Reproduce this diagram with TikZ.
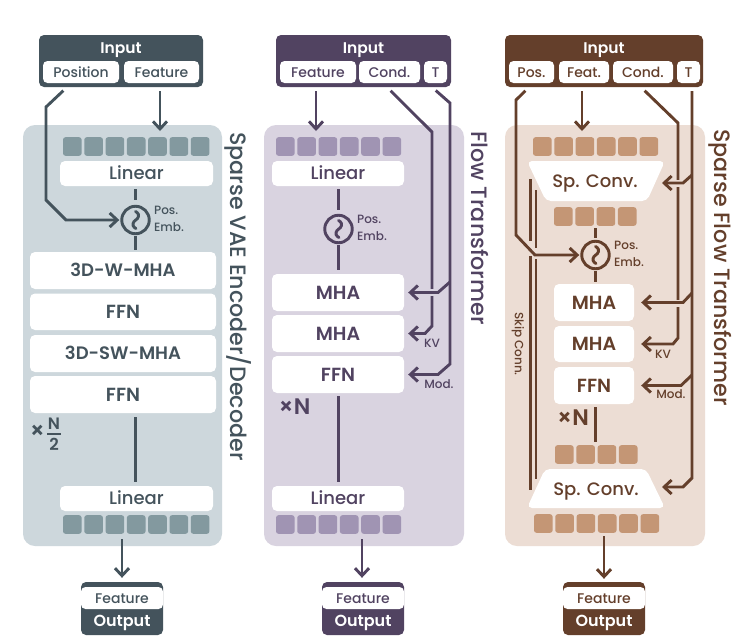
\documentclass[tikz,border=0pt]{standalone}
\usepackage{fontspec}
\setmainfont{Poppins}[UprightFont=* Medium,BoldFont=* SemiBold]
\usetikzlibrary{arrows.meta,calc}
\definecolor{dA}{HTML}{44535C}\definecolor{bA}{HTML}{CDD7DC}\definecolor{sA}{HTML}{83999F}
\definecolor{dB}{HTML}{514361}\definecolor{bB}{HTML}{D9D3E0}\definecolor{sB}{HTML}{A094B3}
\definecolor{dC}{HTML}{643F2B}\definecolor{bC}{HTML}{ECDDD4}\definecolor{sC}{HTML}{C49675}
\tikzset{
 panelbox/.style={fill=#1,rounded corners=12pt,inner sep=0pt},
 headbox/.style={fill=#1,rounded corners=5pt,inner sep=0pt},
 subbox/.style={fill=white,rounded corners=4.5pt,inner sep=0pt,text=#1,font=\fontsize{14}{14}\selectfont,text height=10pt,text depth=0pt},
 blockbox/.style={fill=white,rounded corners=5pt,inner sep=0pt,text=#1,font=\fontsize{18}{18}\selectfont,text height=12.5pt,text depth=0pt},
 capsbox/.style={fill=white,rounded corners=5pt,inner sep=0pt,text=#1,font=\bfseries\fontsize{19}{19}\selectfont,text height=13.3pt,text depth=0pt},
 widebox/.style={fill=white,rounded corners=5pt,inner sep=0pt,text=#1,font=\bfseries\fontsize{18}{18}\selectfont,text height=12.6pt,text depth=0pt},
 headtext/.style={text=white,font=\bfseries\fontsize{15.5}{15.5}\selectfont,inner sep=0pt,text height=11pt,text depth=0pt},
 outtext/.style={text=white,font=\bfseries\fontsize{16}{16}\selectfont,inner sep=0pt,text height=11pt,text depth=0pt},
 seqbox/.style={fill=#1,rounded corners=2.5pt,inner sep=0pt,minimum width=18.6pt,minimum height=18.6pt},
 conn/.style={draw=#1,line width=2.9pt},
 arr/.style={draw=#1,line width=2.9pt,-{Straight Barb[length=7.5pt,width=14pt,line width=2.9pt]}},
 circ/.style={circle,draw=#1,line width=2.9pt,minimum size=27.5pt,inner sep=0pt},
 smalltext/.style={text=#1,font=\fontsize{12}{12}\selectfont,inner sep=0pt},
 titletext/.style={text=#1,font=\fontsize{22.2}{22.2}\selectfont,inner sep=0pt,rotate=-90},
 multtext/.style={text=#1,font=\bfseries\fontsize{22.5}{22.5}\selectfont,inner sep=0pt},
 fractext/.style={text=#1,font=\bfseries\fontsize{16.5}{16.5}\selectfont,inner sep=0pt},
 traptext/.style={text=dC,font=\fontsize{18}{18}\selectfont,inner sep=0pt,text height=13pt,text depth=0pt,minimum width=124pt},
 trapfill/.style={fill=white,rounded corners=5pt},
}
\newcommand\bx[7]{\pgfmathsetmacro\cxx{(#3+#5)/2}\pgfmathsetmacro\cyy{(#4+#6)/2}\pgfmathsetmacro\ww{#5-#3}\pgfmathsetmacro\hh{#6-#4}%
 \node[#1,minimum width=\ww pt,minimum height=\hh pt] (#2) at (\cxx,\cyy) {#7};}
\newcommand\seqrow[5]{\foreach \i in {1,...,#4}{\pgfmathsetmacro\xx{#2+9.3+(\i-1)*21.3}\node[seqbox=#5] (#1-\i) at (\xx,#3) {};}}
\newcommand\posemb[3]{% name, colour, x,y in #3
 \node[circ=#2] (#1) at (#3) {};
 \draw[conn=#2,line cap=round,shift={(#1.center)}] plot[smooth,tension=1] coordinates {(0,-8.5) (3,-3.5) (-2.5,3.5) (0.5,8.5)};
 \node[smalltext=#2,anchor=west] (#1p) at ($(#1.center)+(18.5,-10)$) {Pos.};
 \node[smalltext=#2,anchor=west] (#1e) at ($(#1.center)+(18.5,7.5)$) {Emb.};}
\newcommand\outblock[3]{% suffix, colour, x1
 \bx{headbox=#2}{outb#1}{#3}{582}{#3+82}{635}{}
 \bx{subbox=#2}{outf#1}{#3+3}{587}{#3+79}{609}{Feature}
 \node[outtext] (outt#1) at (#3+41,621) {Output};}
\begin{document}
\begin{tikzpicture}[x=1pt,y=-1pt]
\useasboundingbox (0,0) rectangle (756,641);
\fill[white] (0,0) rectangle (756,641);
% ---------- panel 1
\bx{panelbox=bA}{pA}{23}{125}{222}{546}{}
\bx{headbox=dA}{inA}{39}{35}{203}{87}{}
\node[headtext] (inAt) at (121,48) {Input};
\bx{subbox=dA}{posA}{43}{61}{119}{83}{Position}
\bx{subbox=dA}{featA}{124}{61}{199}{83}{Feature}
\seqrow{sqA}{63}{146.5}{7}{sA}
\bx{blockbox=dA}{linA}{60}{161}{213}{186}{Linear}
\posemb{peA}{dA}{135.5,220}
\bx{widebox=dA}{b1A}{30}{252}{216}{289}{3D-W-MHA}
\bx{capsbox=dA}{b2A}{30}{293.5}{216}{330}{FFN}
\bx{widebox=dA}{b3A}{30}{335}{216}{372}{3D-SW-MHA}
\bx{capsbox=dA}{b4A}{30}{376}{216}{413}{FFN}
\bx{blockbox=dA}{lin2A}{60}{486}{213}{511}{Linear}
\seqrow{sqbA}{63}{524.5}{7}{sA}
\node[multtext=dA] (mA) at (37.5,432) {×};
\node[fractext=dA] (nA) at (54,424) {N};
\node[fractext=dA] (tA) at (54,444) {2};
\path[fill=dA] (47,433) rectangle (61,435);
\node[titletext=dA] (ttA) at (238,296.5) {Sparse VAE Encoder/Decoder};
\outblock{A}{dA}{81}
\draw[conn=dA,shorten <=3pt,shorten >=5pt] (peA |- linA.south) -- (peA.north);
\draw[conn=dA,shorten <=1pt,shorten >=2pt] (peA.south) -- (peA |- b1A.north);
\draw[conn=dA,shorten <=4pt,shorten >=4pt] (peA |- b4A.south) -- (peA |- lin2A.north);
\coordinate (a1) at (46,107);\coordinate (a2) at (46,200);
\draw[arr=dA,shorten <=5pt,shorten >=1pt] (67,0 |- inA.south) -- (a1) -- (a2) -- (66,0 |- peA.west) -- (peA.west);
\draw[arr=dA,shorten <=4pt,shorten >=6pt] (160,0 |- inA.south) -- (160,0 |- sqA-5.north);
\draw[arr=dA,shorten <=5pt,shorten >=4pt] (122,0 |- sqbA-3.south) -- (122,0 |- outbA.north);
% ---------- panel 2
\bx{panelbox=bB}{pB}{264}{125}{464}{546}{}
\bx{headbox=dB}{inB}{276}{35}{451}{87}{}
\node[headtext] (inBt) at (363.5,48) {Input};
\bx{subbox=dB}{featB}{280}{61}{356}{83}{Feature}
\bx{subbox=dB}{condB}{359}{61}{420}{83}{Cond.}
\bx{subbox=dB}{tB}{424}{61}{447}{83}{T}
\seqrow{sqB}{276}{146.5}{6}{sB}
\bx{blockbox=dB}{linB}{272}{161}{404}{186}{Linear}
\posemb{peB}{dB}{338.5,229}
\bx{capsbox=dB}{b1B}{272}{274}{404}{311}{MHA}
\bx{capsbox=dB}{b2B}{272}{315}{404}{352}{MHA}
\bx{capsbox=dB}{b3B}{272}{356}{404}{393}{FFN}
\bx{blockbox=dB}{lin2B}{272}{486}{404}{511}{Linear}
\seqrow{sqbB}{276}{524.5}{6}{sB}
\node[multtext=dB] (mB) at (294.5,407) {×N};
\node[titletext=dB] (ttB) at (480,228) {Flow Transformer};
\node[smalltext=dB] (kvB) at (432,343) {KV};
\node[smalltext=dB] (modB) at (439,384) {Mod.};
\outblock{B}{dB}{322}
\draw[conn=dB,shorten <=3pt,shorten >=4pt] (peB |- linB.south) -- (peB.north);
\draw[conn=dB,shorten <=1pt,shorten >=4pt] (peB.south) -- (peB |- b1B.north);
\draw[conn=dB,shorten <=3pt,shorten >=4pt] (peB |- b3B.south) -- (peB |- lin2B.north);
\draw[arr=dB,shorten <=4pt,shorten >=6pt] (316,0 |- inB.south) -- (316,0 |- sqB-2.north);
\draw[arr=dB,shorten <=5pt,shorten >=4pt] (362,0 |- sqbB-3.south) -- (362,0 |- outbB.north);
\draw[arr=dB,shorten <=5pt,shorten >=4pt] (387,0 |- inB.south) -- (432,132) -- (432,326) -- (425,0 |- b2B.east) -- (b2B.east);
\draw[arr=dB,shorten <=5pt,shorten >=4pt] (432,0 |- inB.south) -- (450,103) -- (450,364) -- (438,0 |- b3B.east) -- (b3B.east);
\draw[draw=bB,line width=7pt] (436,0 |- b1B.east) -- (428,0 |- b1B.east);
\draw[arr=dB,shorten >=4pt] (450,282) -- (438,0 |- b1B.east) -- (b1B.east);
% ---------- panel 3
\bx{panelbox=bC}{pC}{505}{125}{705}{546}{}
\bx{headbox=dC}{inC}{505}{35}{703}{87}{}
\node[headtext] (inCt) at (604,48) {Input};
\bx{subbox=dC}{posC}{509}{61}{554}{83}{Pos.}
\bx{subbox=dC}{featC}{559}{61}{609}{83}{Feat.}
\bx{subbox=dC}{condC}{613}{61}{673}{83}{Cond.}
\bx{subbox=dC}{tC}{677}{61}{700}{83}{T}
\seqrow{sqC}{533}{146.5}{6}{sC}
\path[trapfill] (527,161) -- (665,161) -- (647,201) -- (546,201) -- cycle;
\node[traptext] (tr1C) at (595,181) {Sp. Conv.};
\seqrow{sqmC}{554}{216.5}{4}{sC}
\posemb{peC}{dC}{595.5,255}
\bx{capsbox=dC}{b1C}{554}{284}{634}{321}{MHA}
\bx{capsbox=dC}{b2C}{554}{326}{634}{362}{MHA}
\bx{capsbox=dC}{b3C}{554}{367}{634}{404}{FFN}
\node[multtext=dC] (mC) at (573,418) {×N};
\seqrow{sqlC}{555}{454.5}{4}{sC}
\path[trapfill] (545,469) -- (646,469) -- (665,508) -- (527,508) -- cycle;
\node[traptext] (tr2C) at (596,489) {Sp. Conv.};
\seqrow{sqbC}{534}{523.5}{6}{sC}
\node[titletext=dC] (ttC) at (720,267.5) {Sparse Flow Transformer};
\node[smalltext=dC] (kvC) at (663,354) {KV};
\node[smalltext=dC] (modC) at (671,394) {Mod.};
\node[smalltext=dC,rotate=-90] (skC) at (518,344) {Skip Conn.};
\outblock{C}{dC}{563}
\draw[conn=dC,shorten <=2pt,shorten >=2pt] (peC |- sqmC-2.south) -- (peC.north);
\draw[conn=dC,shorten <=1pt,shorten >=2pt] (peC.south) -- (peC |- b1C.north);
\draw[conn=dC,shorten <=3pt,shorten >=3pt] (peC |- b3C.south) -- (peC |- sqlC-2.north);
\draw[arr=dC,shorten <=4pt,shorten >=6pt] (582,0 |- inC.south) -- (582,0 |- sqC-3.north);
\draw[arr=dC,shorten <=3pt,shorten >=3pt] (604,0 |- sqbC-4.south) -- (604,0 |- outbC.north);
\coordinate (c1) at (516,100);\coordinate (c2) at (516,235);
\draw[arr=dC,shorten <=5pt,shorten >=1pt] (529,0 |- inC.south) -- (c1) -- (c2) -- (535,0 |- peC.west) -- (peC.west);
\coordinate (sk1) at (530.5,179);\coordinate (sk2) at (530.5,241);\coordinate (sk3) at (530.5,256);\coordinate (sk4) at (530.5,490);
\coordinate (sk5) at (536,190);\coordinate (sk6) at (536,248);\coordinate (sk7) at (536,259);\coordinate (sk8) at (536,479);
\draw[conn=dC] (sk1) -- (sk2);\draw[conn=dC] (sk3) -- (sk4);
\draw[conn=dC] (sk5) -- (sk6);\draw[conn=dC] (sk7) -- (sk8);
\draw[arr=dC,shorten <=5pt] (641,0 |- inC.south) -- (678,123) -- (678,338) -- (673,0 |- b2C.east) -- ($(b2C.east)+(7,0)$);
\coordinate (e1) at (662,183);\coordinate (e2) at (662,487);
\draw[arr=dC,shorten <=4pt] (692,0 |- inC.south) -- (692,478) -- (683,0 |- e2) -- (e2);
\draw[draw=bC,line width=7pt] (682,0 |- e1) -- (674,0 |- e1);
\draw[arr=dC] (692,175) -- (683,0 |- e1) -- (e1);
\draw[draw=bC,line width=7pt] (682,303) -- (674,303);
\draw[arr=dC,shorten >=7pt] (692,293) -- (683,0 |- b1C.east) -- (b1C.east);
\draw[arr=dC,shorten >=7pt] (692,375) -- (681,0 |- b3C.east) -- (b3C.east);
\end{tikzpicture}
\end{document}
